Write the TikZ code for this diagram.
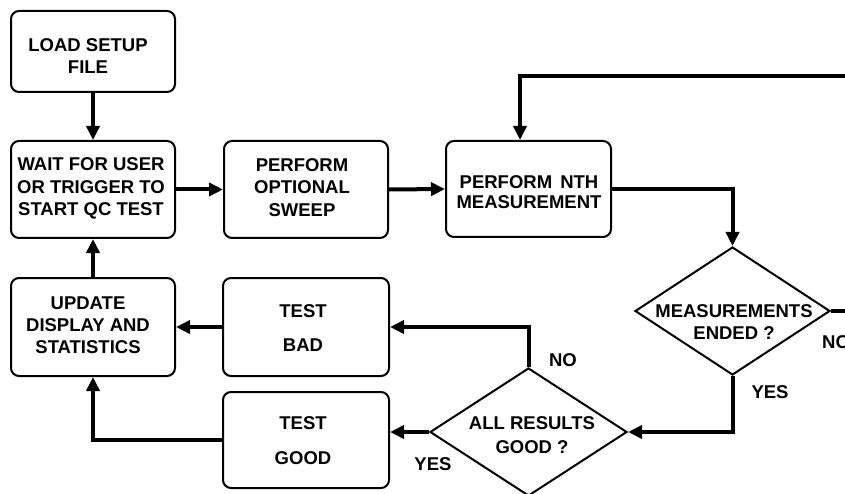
\documentclass[tikz,border=0pt]{standalone}
\usepackage{fontspec}
\setmainfont{Liberation Sans}
\usetikzlibrary{arrows.meta,shapes.geometric}
\begin{document}
\begin{tikzpicture}[x=1pt,y=-1pt,
  box/.style={draw,line width=2pt,rounded corners=8pt,rectangle,inner sep=0pt,
    minimum width=164pt,minimum height=97pt},
  dia/.style={draw,line width=2pt,diamond,inner sep=0pt,
    minimum width=196pt,minimum height=128pt},
  txt/.style={align=center,inner sep=0pt,font=\bfseries\fontsize{18.5}{22.5}\selectfont},
  conn/.style={line width=4pt,-{Triangle[length=14pt,width=13pt]}},
  plain/.style={line width=4pt}]
\useasboundingbox (0,0) rectangle (845,494);
\clip (0,0) rectangle (845,494);
% boxes
\node[box,minimum height=81pt] (load) at (93,51.5) {};
\node[box] (wait) at (93,189.5) {};
\node[box] (sweep) at (306,189.5) {};
\node[box,minimum width=165pt,minimum height=96pt] (nth) at (528.5,189) {};
\node[box,minimum height=98pt] (update) at (93,327) {};
\node[box,minimum width=166pt,minimum height=98pt] (bad) at (306,327) {};
\node[box,minimum width=166pt,minimum height=96pt] (good) at (306,440) {};
\node[dia,minimum width=195pt] (meas) at (732.5,311) {};
\node[dia,minimum width=197pt] (all) at (528.5,432) {};
% texts
\node[txt] (tload) at (88,56) {LOAD SETUP\\FILE};
\node[txt] (twait) at (91,188.5) {WAIT FOR USER\\OR TRIGGER TO\\START QC TEST};
\node[txt] (tsweep) at (302,187.5) {PERFORM\\OPTIONAL\\SWEEP};
\node[txt,font=\bfseries\fontsize{18.5}{20}\selectfont] (tnth) at (529,192) {PERFORM\hspace{3pt} NTH\\MEASUREMENT};
\node[txt,font=\bfseries\fontsize{18.5}{22}\selectfont] (tupdate) at (88,325) {UPDATE\\DISPLAY AND\\STATISTICS};
\node[txt,font=\bfseries\fontsize{18.5}{34}\selectfont] (tbad) at (303,328.5) {TEST\\BAD};
\node[txt,font=\bfseries\fontsize{18.5}{35}\selectfont] (tgood) at (303,440.5) {TEST\\GOOD};
\node[txt,font=\bfseries\fontsize{18.5}{22}\selectfont] (tmeas) at (734,322) {MEASUREMENTS\\ENDED ?};
\node[txt,font=\bfseries\fontsize{18.5}{24}\selectfont] (tall) at (532,435) {ALL RESULTS\\GOOD ?};
% labels
\node[txt] (lno1) at (563,360) {NO};
\node[txt] (lyes1) at (770,392) {YES};
\node[txt] (lyes2) at (433,464) {YES};
\node[txt,anchor=west] (lno2) at (822,342) {NO};
% helper coordinates
\coordinate (loopR) at (870,76);
\coordinate (loopL) at (520,76);
% connectors
\draw[conn] (load.south) -- (wait.north);
\draw[conn] (wait.east) -- (sweep.west);
\draw[conn] (sweep.east) -- (nth.west);
\draw[conn] (nth.east) -| (meas.north);
\draw[conn] (meas.east) -| (loopR) -- (loopL) -- (loopL |- nth.north);
\draw[conn] (meas.south) |- (all.east);
\draw[conn] (all.north) |- (bad.east);
\draw[conn] (all.west) -- (all.west -| good.east);
\draw[conn] (bad.west) -- (update.east);
\draw[conn] (good.west) -| (update.south);
\draw[conn] (update.north) -- (wait.south);
\end{tikzpicture}
\end{document}
